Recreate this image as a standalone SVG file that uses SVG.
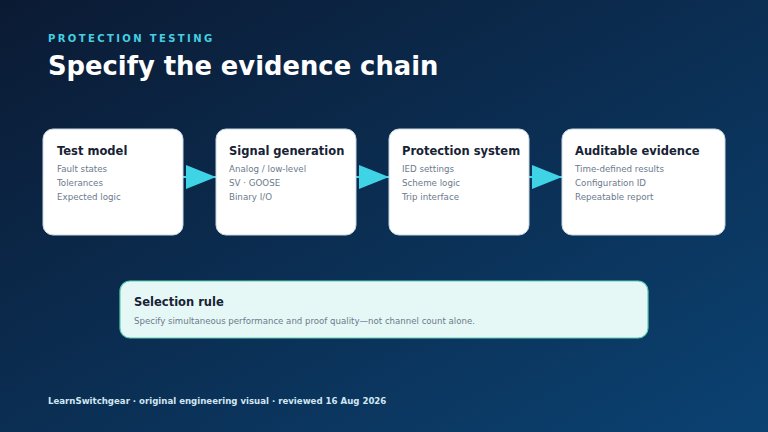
<svg xmlns="http://www.w3.org/2000/svg" width="768" height="432" viewBox="0 0 768 432">
<defs>
<linearGradient id="bg" x1="0" y1="0" x2="1" y2="1">
<stop offset="0" stop-color="#0b1a33"/>
<stop offset="1" stop-color="#0b4272"/>
</linearGradient>
<marker id="ah" viewBox="0 0 30 24" refX="30" refY="12" markerWidth="30" markerHeight="24" markerUnits="userSpaceOnUse" orient="auto">
<path d="M0,0 L30,12 L0,24 Z" fill="#3fd3e6"/>
</marker>
<style>
text{font-family:"DejaVu Sans","Liberation Sans",sans-serif}
.card{fill:#ffffff;stroke:#c8d6e2;stroke-width:1}
.h{font-size:11.5px;font-weight:bold;fill:#172235}
.i{font-size:8.7px;fill:#6b7a8c}
.conn{stroke:#3fd3e6;stroke-width:2;fill:none}
</style>
</defs>
<rect width="768" height="432" fill="url(#bg)"/>
<text x="48" y="42" font-size="10" font-weight="bold" fill="#45cfe0" letter-spacing="2.4">PROTECTION TESTING</text>
<text x="48" y="75" font-size="25.8" font-weight="bold" fill="#ffffff">Specify the evidence chain</text>
<g id="connectors">
<line class="conn" x1="183" y1="177" x2="216" y2="177" marker-end="url(#ah)"/>
<line class="conn" x1="356" y1="177" x2="389" y2="177" marker-end="url(#ah)"/>
<line class="conn" x1="529" y1="177" x2="562" y2="177" marker-end="url(#ah)"/>
</g>
<g id="test-model">
<rect class="card" x="43" y="129" width="140" height="106" rx="10"/>
<text class="h" x="57" y="155">Test model</text>
<text class="i" x="57" y="172">Fault states</text>
<text class="i" x="57" y="186">Tolerances</text>
<text class="i" x="57" y="200">Expected logic</text>
</g>
<g id="signal-generation">
<rect class="card" x="216" y="129" width="140" height="106" rx="10"/>
<text class="h" x="229" y="155">Signal generation</text>
<text class="i" x="229" y="172">Analog / low-level</text>
<text class="i" x="229" y="186">SV · GOOSE</text>
<text class="i" x="229" y="200">Binary I/O</text>
</g>
<g id="protection-system">
<rect class="card" x="389" y="129" width="140" height="106" rx="10"/>
<text class="h" x="402" y="155">Protection system</text>
<text class="i" x="402" y="172">IED settings</text>
<text class="i" x="402" y="186">Scheme logic</text>
<text class="i" x="402" y="200">Trip interface</text>
</g>
<g id="auditable-evidence">
<rect class="card" x="562" y="129" width="163" height="106" rx="10"/>
<text class="h" x="575" y="155">Auditable evidence</text>
<text class="i" x="575" y="172">Time-defined results</text>
<text class="i" x="575" y="186">Configuration ID</text>
<text class="i" x="575" y="200">Repeatable report</text>
</g>
<g id="selection-rule">
<rect x="120" y="281" width="528" height="57" rx="10" fill="#e6f8f5" stroke="#5ccdb4" stroke-width="1.2"/>
<text class="h" x="134" y="306">Selection rule</text>
<text x="134" y="324" font-size="8.6" fill="#6b7a8c">Specify simultaneous performance and proof quality—not channel count alone.</text>
</g>
<text x="48" y="404" font-size="8.6" font-weight="bold" fill="#d2e6f2">LearnSwitchgear · original engineering visual · reviewed 16 Aug 2026</text>
</svg>
